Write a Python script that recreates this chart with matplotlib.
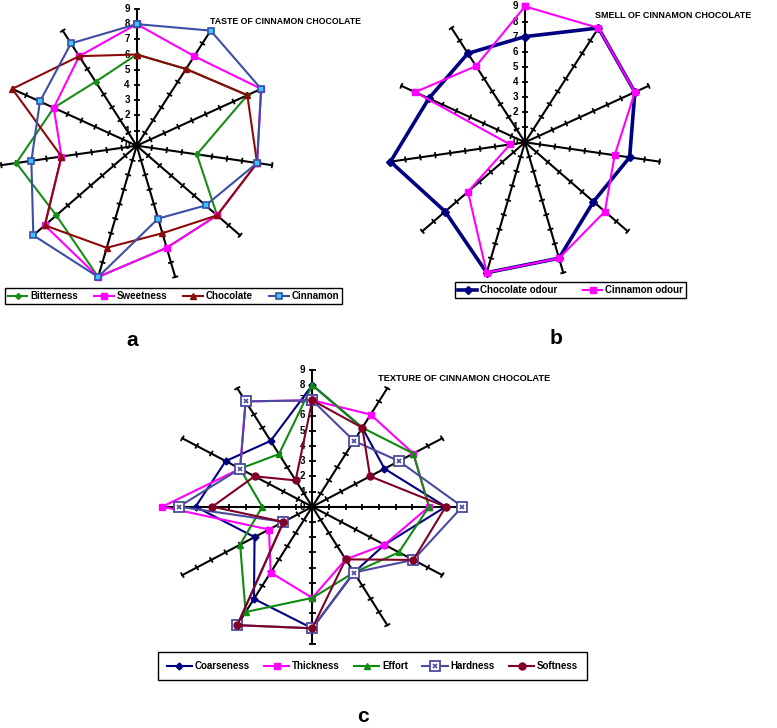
import numpy as np
import matplotlib.pyplot as plt
from matplotlib.collections import LineCollection
from matplotlib.legend_handler import HandlerTuple

plt.rcParams['font.family'] = ['Liberation Sans', 'DejaVu Sans']
plt.rcParams['font.weight'] = 'bold'

# (a) taste, 11 panellists, clockwise from top
taste_labels = ['Bitterness', 'Sweetness', 'Chocolate', 'Cinnamon']
bitterness = [6, 6, 8, 4, 7, 7, 9, 7, 8, 6, 5]
sweetness = [8, 7, 9, 8, 7, 7, 9, 8, 5, 6, 7]
chocolate = [6, 6, 8, 8, 7, 6, 7, 8, 5, 9, 7]
cinnamon = [8, 9, 9, 8, 6, 5, 9, 9, 7, 7, 8]

# (b) smell
smell_labels = ['Chocolate odour', 'Cinnamon odour']
chocolate_odour = [7, 9, 8, 7, 6, 8, 9, 7, 9, 7, 7]
cinnamon_odour = [9, 9, 8, 6, 7, 8, 9, 5, 1, 8, 6]

# (c) texture, 12 panellists
texture_labels = ['Coarseness', 'Thickness', 'Effort', 'Hardness', 'Softness']
coarseness = [8, 6, 5, 8, 5, 5, 8, 7, 4, 7, 6, 5]
thickness = [7, 7, 7, 7, 5, 4, 6, 5, 3, 9, 5, 8]
effort = [8, 6, 7, 7, 6, 5, 6, 8, 5, 3, 5, 4]
hardness = [7, 5, 6, 9, 7, 5, 8, 9, 2, 8, 5, 8]
softness = [7, 6, 4, 8, 7, 4, 8, 9, 2, 6, 4, 2]

scale_ticks = list(range(0, 10))

W, H = 777, 728
fig = plt.figure(figsize=(W / 100, H / 100), dpi=100)


def make_ax(cx, cy, sx, sy, half=10):
    # cx, cy: centre in pixels from top-left, sx, sy: pixels per unit
    ax = fig.add_axes([(cx - half * sx) / W, 1 - (cy + half * sy) / H,
                       2 * half * sx / W, 2 * half * sy / H])
    ax.set_xlim(-half, half)
    ax.set_ylim(-half, half)
    ax.axis('off')
    return ax


def spokes(ax, n):
    vmax = scale_ticks[-1]
    ang = np.pi / 2 - 2 * np.pi * np.arange(n) / n
    for a in ang:
        ax.plot([0, vmax * np.cos(a)], [0, vmax * np.sin(a)], color='black', lw=1.5, zorder=1)
    segs = []
    for a in ang:
        for v in scale_ticks[1:]:
            cx, cy = v * np.cos(a), v * np.sin(a)
            dx, dy = -np.sin(a) * 0.2, np.cos(a) * 0.2
            segs.append([(cx - dx, cy - dy), (cx + dx, cy + dy)])
    ax.add_collection(LineCollection(segs, colors='black', linewidths=1.3, zorder=1))
    for v in scale_ticks:
        ax.annotate(str(v), (0, v), xytext=(-7, 0), textcoords='offset points',
                    ha='center', va='center', fontsize=7, fontweight='bold', zorder=0)
    return ang


def series(ax, ang, vals, **kw):
    v = np.array(list(vals) + [vals[0]])
    a = np.append(ang, ang[0])
    return ax.plot(v * np.cos(a), v * np.sin(a), zorder=3, **kw)[0]


def legend(handles, labels, box, **kw):
    x0, y0, x1, y1 = box
    leg = fig.legend(handles, labels, loc='center',
                     bbox_to_anchor=(x0 / W, 1 - y1 / H, (x1 - x0) / W, (y1 - y0) / H),
                     mode='expand', ncol=len(labels), fontsize=7, frameon=True,
                     fancybox=False, edgecolor='black', framealpha=1,
                     borderaxespad=0, handletextpad=0.3,
                     handler_map={tuple: HandlerTuple(ndivide=1)}, **kw)
    leg.get_frame().set_linewidth(1.0)
    return leg


# ---- a: taste
ax = make_ax(136.7, 145.7, 15.2, 15.2)
ang = spokes(ax, len(bitterness))
h_a = [
    series(ax, ang, bitterness, color='#1a8c1a', lw=1.5, marker='D', ms=3),
    series(ax, ang, sweetness, color='#ff00ff', lw=1.5, marker='s', ms=4),
    series(ax, ang, chocolate, color='#8b0a0a', lw=1.5, marker='^', ms=5),
    series(ax, ang, cinnamon, color='#3c4ea4', lw=1.5, marker='s', ms=5,
           mfc='#38c8ff', mec='#3c4ea4', mew=1.2),
]
fig.text(210 / W, 1 - 22 / H, 'TASTE OF CINNAMON CHOCOLATE', fontsize=6.3,
         fontweight='bold', ha='left', va='center')
legend(h_a, taste_labels, (5, 286, 342, 306), handlelength=2.0, borderpad=0.3)
fig.text(132 / W, 1 - 340 / H, 'a', fontsize=15, fontweight='bold', ha='center', va='center')

# ---- b: smell
ax = make_ax(525, 142.3, 15.1, 15.1)
ang = spokes(ax, len(chocolate_odour))
h_b = [
    series(ax, ang, chocolate_odour, color='#000080', lw=2.6, marker='D', ms=4),
    series(ax, ang, cinnamon_odour, color='#ff00ff', lw=1.5, marker='s', ms=4),
]
fig.text(595 / W, 1 - 16 / H, 'SMELL OF CINNAMON CHOCOLATE', fontsize=6.5,
         fontweight='bold', ha='left', va='center')
legend(h_b, smell_labels, (455, 280, 686, 300), handlelength=2.0, borderpad=0.3)
fig.text(556 / W, 1 - 338 / H, 'b', fontsize=15, fontweight='bold', ha='center', va='center')

# ---- c: texture
ax = make_ax(312.3, 506.7, 16.67, 15.2)
ang = spokes(ax, len(coarseness))
h_c = [
    series(ax, ang, coarseness, color='#000080', lw=1.5, marker='D', ms=3.5),
    series(ax, ang, thickness, color='#ff00ff', lw=1.5, marker='s', ms=4),
    series(ax, ang, effort, color='#108a10', lw=1.5, marker='^', ms=5),
]
hard_sq = series(ax, ang, hardness, color='#4a4aa0', lw=1.5, marker='s', ms=6.5,
                 mfc='white', mec='#4a4aa0', mew=1.3)
hard_x = series(ax, ang, hardness, color='#4a4aa0', lw=0, marker='x', ms=3.5, mew=1.2)
h_c.append((hard_sq, hard_x))
h_c.append(series(ax, ang, softness, color='#800028', lw=1.5, marker='o', ms=5))
fig.text(378 / W, 1 - 378 / H, 'TEXTURE OF CINNAMON CHOCOLATE', fontsize=6.7,
         fontweight='bold', ha='left', va='center')
legend(h_c, texture_labels, (158, 649, 587, 683), handlelength=2.6, borderpad=0.9)
fig.text(363 / W, 1 - 716 / H, 'c', fontsize=15, fontweight='bold', ha='center', va='center')

fig.savefig('out.png', dpi=100)
